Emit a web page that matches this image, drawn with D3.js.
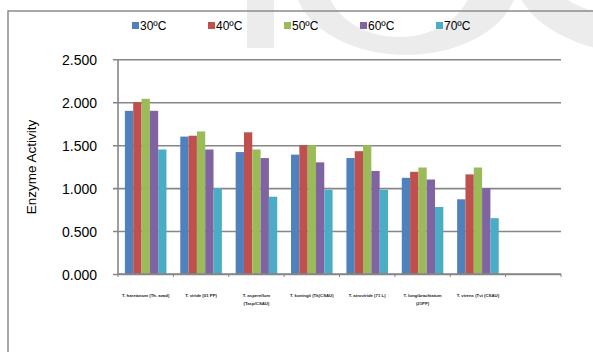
<!DOCTYPE html>
<html>
<head>
<meta charset="utf-8">
<script src="https://cdn.jsdelivr.net/npm/d3@7"></script>
<style>
  body { margin: 0; background: #fff; }
  svg { display: block; font-family: "Liberation Sans", Arial, sans-serif; }
</style>
</head>
<body>
<div id="chart"></div>
<script>
// --- data ---
const categories = [
    ["T. harzianum (Th. azad)"],
    ["T. viride (01 PP)"],
    ["T. asperellum", "(Tasp/CSAU)"],
    ["T. koningii (Tk(CSAU)"],
    ["T. atroviride (71 L)"],
    ["T. longibrachiatum", "(21PP)"],
    ["T. virens (Tvi (CSAU)"]
];
const seriesNames = ["30ºC", "40ºC", "50ºC", "60ºC", "70ºC"];
const seriesColors = ["#4F81BD", "#C0504D", "#9BBB59", "#8064A2", "#4BACC6"];
const temp30 = [1.90, 1.60, 1.42, 1.39, 1.35, 1.12, 0.87];
const temp40 = [2.00, 1.61, 1.65, 1.50, 1.43, 1.19, 1.16];
const temp50 = [2.04, 1.66, 1.45, 1.50, 1.50, 1.24, 1.24];
const temp60 = [1.90, 1.45, 1.35, 1.30, 1.20, 1.10, 1.00];
const temp70 = [1.45, 1.00, 0.90, 0.98, 0.98, 0.78, 0.65];
const yTicks = [0, 0.5, 1.0, 1.5, 2.0, 2.5];

const seriesValues = [temp30, temp40, temp50, temp60, temp70];

const width = 593, height = 352;
const svg = d3.select("#chart").append("svg")
    .attr("width", width)
    .attr("height", height);

// faint watermark behind the chart
const wm = svg.append("g").attr("fill", "#ececec");
wm.append("rect").attr("x", 247).attr("y", 0).attr("width", 27).attr("height", 48);
wm.append("path").attr("fill-rule", "evenodd")
    .attr("d", "M 406 -20 m -112 0 a 112 75 0 1 0 224 0 a 112 75 0 1 0 -224 0 Z " +
               "M 399 -20 m -73 0 a 73 57 0 1 0 146 0 a 73 57 0 1 0 -146 0 Z");
wm.append("path").attr("fill-rule", "evenodd")
    .attr("d", "M 650 -25 m -135 0 a 135 80 0 1 0 270 0 a 135 80 0 1 0 -270 0 Z " +
               "M 655 -25 m -105 0 a 105 45 0 1 0 210 0 a 105 45 0 1 0 -210 0 Z");

// outer frame (only top and left visible)
svg.append("path")
    .attr("d", "M 8 352 L 8 11 L 593 11")
    .attr("fill", "none")
    .attr("stroke", "#8c8c8c")
    .attr("stroke-width", 1.5);

const x0 = 118, x1 = 561, yBase = 274, yTop = 59.3;
const slot = (x1 - x0) / 8;

const y = d3.scaleLinear().domain([0, 2.5]).range([yBase, yTop]);
const x = d3.scaleBand().domain(d3.range(categories.length))
    .range([x0, x0 + slot * categories.length]);
const xs = d3.scaleBand().domain(seriesNames)
    .range([0, slot]).paddingInner(0).paddingOuter(0.83);

// gridlines + y axis
const yAxis = d3.axisLeft(y).tickValues(yTicks)
    .tickSize(-(x1 - x0)).tickFormat(d3.format(".3f"));
const gy = svg.append("g").attr("transform", `translate(${x0},0)`).call(yAxis);
gy.select(".domain").remove();
gy.selectAll(".tick line")
    .attr("x1", -5)
    .attr("stroke", "#868686").attr("stroke-width", 1.6);
gy.selectAll(".tick text")
    .attr("x", -21)
    .attr("dy", "0.36em")
    .attr("font-size", 14).attr("fill", "#000")
    .attr("font-family", "Liberation Sans, Arial, sans-serif");

svg.append("line")
    .attr("x1", x0).attr("x2", x0).attr("y1", yTop).attr("y2", yBase)
    .attr("stroke", "#868686").attr("stroke-width", 1.6);

// bars
const groups = svg.append("g").selectAll("g")
    .data(categories.map((c, i) => i))
    .join("g")
    .attr("transform", i => `translate(${x(i)},0)`);

groups.selectAll("rect")
    .data(i => seriesValues.map((vals, s) => ({ s, v: vals[i] })))
    .join("rect")
    .attr("x", d => xs(seriesNames[d.s]))
    .attr("width", xs.bandwidth())
    .attr("y", d => y(d.v))
    .attr("height", d => yBase - y(d.v))
    .attr("fill", d => seriesColors[d.s]);

// x axis line and ticks
svg.append("line")
    .attr("x1", x0).attr("x2", x1).attr("y1", yBase).attr("y2", yBase)
    .attr("stroke", "#868686").attr("stroke-width", 1.6);
svg.append("g").selectAll("line")
    .data(d3.range(9))
    .join("line")
    .attr("x1", i => x0 + i * slot).attr("x2", i => x0 + i * slot)
    .attr("y1", yBase).attr("y2", yBase + 3)
    .attr("stroke", "#868686").attr("stroke-width", 1);

// category labels
const lab = svg.append("g").selectAll("text")
    .data(categories)
    .join("text")
    .attr("x", (d, i) => x(i) + slot / 2)
    .attr("y", 297)
    .attr("text-anchor", "middle")
    .attr("font-size", 4.3)
    .attr("font-weight", "bold")
    .attr("fill", "#222");
lab.selectAll("tspan")
    .data(d => d)
    .join("tspan")
    .attr("x", function() { return this.parentNode.getAttribute("x"); })
    .attr("dy", (d, j) => j === 0 ? 0 : 7.5)
    .text(d => d);

// y title
svg.append("text")
    .attr("transform", "translate(36,167) rotate(-90)")
    .attr("text-anchor", "middle")
    .attr("font-size", 13.5)
    .attr("fill", "#000")
    .text("Enzyme Activity");

// legend
const leg = svg.append("g").selectAll("g")
    .data(seriesNames)
    .join("g")
    .attr("transform", (d, i) => `translate(${132 + i * 76},22)`);
leg.append("rect").attr("width", 7).attr("height", 7)
    .attr("fill", (d, i) => seriesColors[i]);
leg.append("text").attr("x", 8).attr("y", 8)
    .attr("font-size", 12).attr("fill", "#000")
    .text(d => d);
</script>
</body>
</html>
